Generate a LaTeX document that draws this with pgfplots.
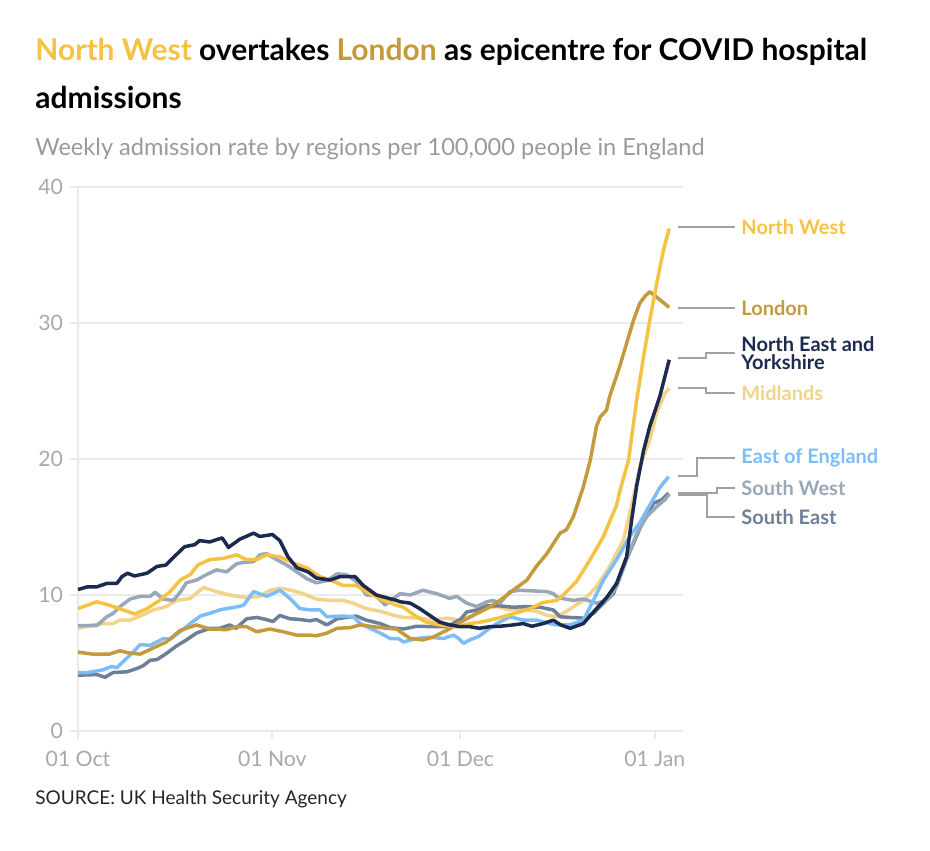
\documentclass[border=0pt]{standalone}
\usepackage{pgfplots}
\pgfplotsset{compat=1.18}
\usetikzlibrary{calc}
\usepackage{fontspec}
\setmainfont{Lato}
\definecolor{cNW}{HTML}{F6C244}
\definecolor{cLon}{HTML}{C49A3C}
\definecolor{cNEY}{HTML}{1B2A4E}
\definecolor{cMid}{HTML}{F2D38A}
\definecolor{cEoE}{HTML}{7DBDF7}
\definecolor{cSW}{HTML}{98A8B8}
\definecolor{cSE}{HTML}{6E8098}
\definecolor{cGrid}{HTML}{EAEAEA}
\definecolor{cTick}{HTML}{A8A8A8}
\definecolor{cLead}{HTML}{A0A0A0}
\definecolor{cSub}{HTML}{9A9A9A}
\begin{document}
\begin{tikzpicture}
\begin{axis}[
  name=main, scale only axis,
  width=302.5pt, height=272pt,
  xmin=0, xmax=96.5, ymin=0, ymax=40,
  axis x line=bottom, axis y line=left,
  axis line style={-, draw=cGrid, line width=1pt},
  ytick={0,10,20,30,40},
  xtick={0,31,61,92},
  xticklabels={01 Oct,01 Nov,01 Dec,01 Jan},
  ymajorgrids, grid style={cGrid, line width=1pt},
  tick align=outside, major tick length=4pt,
  tick style={cGrid, line width=1pt},
  /pgf/number format/assume math mode=true,
  ticklabel style={text=cTick, font=\fontsize{10.6}{13}\selectfont},
  xticklabel style={yshift=-2.5pt},
  every axis plot/.append style={line width=1.75pt, line join=round, no marks},
  clip=false,
]
\addplot[cMid] coordinates {(0,7.55)(2.4,7.8)(4,7.9)(5.6,7.9)(6.7,8.15)(8.3,8.15)(9.9,8.45)(12,8.9)(14.1,9.15)(15.7,9.6)(17.9,9.75)(20,10.55)(22.1,10.25)(24.2,10.0)(26.9,9.8)(29,9.9)(30.6,10.35)(32.2,10.5)(34,10.35)(35.9,10.1)(38,9.7)(40.2,9.6)(42.3,9.6)(43.9,9.4)(46,9.0)(48.2,8.8)(50.8,8.45)(51.9,8.35)(54.5,8.3)(56.7,8.15)(58.8,8.3)(61,8.15)(63,8.5)(64.6,9.0)(66.8,9.15)(68.9,8.9)(71,8.95)(73.2,8.8)(74.8,8.5)(76.3,8.4)(77.4,8.65)(80.6,9.6)(82.7,10.6)(84.8,12.1)(87,14.05)(88.6,17.2)(89.6,19.4)(91.2,21.4)(92.3,23.4)(93.6,24.8)(94.3,25.2)};
\addplot[cSE] coordinates {(0,4.1)(3,4.15)(4.3,3.95)(5.6,4.3)(7.8,4.35)(9.4,4.6)(10.4,4.8)(11.5,5.2)(12.6,5.25)(14.1,5.7)(15.7,6.25)(17.3,6.7)(18.9,7.2)(21,7.55)(22.6,7.55)(24.2,7.8)(25.2,7.55)(26.9,8.25)(28.5,8.35)(30,8.2)(31.1,8.05)(32.2,8.5)(33.8,8.25)(35.4,8.2)(37,8.1)(38,8.2)(39.7,7.8)(41.3,8.25)(42.8,8.35)(44.4,8.45)(46,8.15)(48.2,7.9)(49.8,7.6)(51.9,7.5)(54,7.7)(56.7,7.67)(58.8,7.67)(61,8.2)(62,8.75)(63.6,8.9)(65.2,9.2)(67.3,9.2)(69.4,9.1)(71.6,9.15)(73.7,9.1)(75.8,8.9)(76.9,8.4)(78.5,8.35)(80.6,8.3)(82.2,8.65)(83.8,9.4)(85.4,10.1)(87,12.1)(88.6,13.8)(90.2,15.5)(91.8,16.75)(93.1,17.0)(94.2,17.5)};
\addplot[cSW] coordinates {(0,7.75)(3,7.75)(4.6,8.4)(5.6,8.65)(6.7,9.15)(8.3,9.7)(9.9,9.9)(11.5,9.9)(12.3,10.2)(13.6,9.7)(15.2,9.6)(16.3,10.2)(17.3,10.9)(18.9,11.1)(20.5,11.5)(22.1,11.85)(23.7,11.7)(25.3,12.3)(26.4,12.4)(28,12.45)(29,12.95)(30,13.05)(31.7,12.6)(33.3,12.2)(34.9,11.7)(36.5,11.2)(38,10.9)(39.7,11.05)(41.3,11.55)(42.8,11.5)(44.4,11.0)(46,10.0)(47.4,10.0)(49,9.25)(49.8,9.6)(51.4,10.1)(53,10.0)(55,10.35)(57.2,10.1)(59.3,9.75)(60.4,9.9)(62,9.4)(63.6,9.15)(65.2,9.5)(66.2,9.6)(67.3,9.4)(68.9,10.25)(70.5,10.35)(72.6,10.3)(74.8,10.25)(75.8,10.1)(76.6,9.8)(79,9.6)(80.6,9.7)(82.7,9.4)(84.3,9.6)(85.9,10.6)(87.5,12.6)(89.1,14.5)(90.7,15.75)(92.3,16.5)(93.6,17.0)(94.3,17.4)};
\addplot[cEoE] coordinates {(0,4.3)(1.6,4.3)(4,4.5)(5.4,4.75)(6.2,4.65)(7.2,5.1)(8.8,5.8)(9.9,6.35)(11.5,6.3)(12.6,6.55)(13.6,6.8)(14.7,6.75)(16.3,7.3)(17.9,7.9)(19.5,8.45)(21,8.65)(22.6,8.9)(23.7,9.0)(25.6,9.15)(26.4,9.25)(28,10.25)(30.1,9.9)(32.2,10.35)(33.8,9.75)(35.4,9.0)(37,8.9)(38.6,8.9)(39.7,8.4)(42.3,8.45)(43.9,8.4)(45,7.9)(46.6,7.55)(48.2,7.2)(49.8,6.8)(51.1,6.8)(51.9,6.55)(54,6.8)(56.1,6.9)(58.3,6.8)(59.9,7.05)(60.7,6.8)(61.5,6.45)(62.5,6.7)(63.9,6.95)(65.2,7.4)(66.8,7.9)(68.9,8.4)(71,8.15)(73.2,8.15)(75.3,7.9)(76.3,7.8)(78.5,7.8)(80.6,8.15)(82.2,9.6)(83.8,11.1)(85.9,12.6)(88,14.3)(89.6,15.3)(91.2,16.6)(92.8,17.9)(94.2,18.7)};
\addplot[cLon] coordinates {(0,5.8)(2.4,5.65)(5,5.65)(6.7,5.9)(8,5.75)(9.9,5.65)(12,6.1)(14.1,6.55)(16.3,7.4)(18.9,7.8)(21,7.5)(23.7,7.45)(25.3,7.67)(26.9,7.67)(28.5,7.3)(30.6,7.5)(32.7,7.3)(34.9,7.05)(37,7.05)(38,7.0)(39.7,7.2)(41.3,7.55)(43.4,7.6)(45,7.8)(47.1,7.67)(49.2,7.55)(50.8,7.5)(51.4,7.3)(53,6.8)(55,6.7)(56.6,6.9)(58.8,7.4)(61,8.0)(63,8.5)(65.2,9.0)(67.3,9.6)(69.4,10.35)(71.6,11.1)(73.1,12.1)(74.8,13.05)(76.9,14.55)(77.9,14.8)(79,15.75)(80.6,17.95)(81.7,19.9)(82.7,22.4)(83.3,23.1)(84.3,23.6)(84.8,24.6)(86.4,26.8)(87.5,28.5)(88.6,30.2)(89.6,31.45)(90.5,32.0)(91.2,32.3)(92.3,31.9)(94.3,31.15)};
\addplot[cNW] coordinates {(0,9.0)(3,9.5)(5,9.25)(7.2,8.9)(9.1,8.6)(11,9.0)(13,9.6)(14.7,10.25)(16.3,11.1)(17.9,11.5)(19.1,12.2)(21,12.6)(23.2,12.7)(25.3,12.95)(26.9,12.6)(28.5,12.6)(30,12.95)(32.2,12.8)(34.3,12.35)(36.5,12.0)(38.6,11.35)(40.2,11.1)(42.3,10.7)(44.4,10.7)(46.6,10.1)(48.7,9.6)(50.8,9.25)(51.9,9.1)(54,8.4)(55.6,8.0)(57.7,7.8)(60.4,7.67)(62.5,7.9)(64.1,8.0)(65.7,8.15)(67.8,8.4)(70,8.7)(72.1,9.0)(74.2,9.45)(76.3,9.6)(77.4,10.0)(79.5,11.0)(81.7,12.6)(83.8,14.3)(84.8,15.4)(85.9,16.6)(86.4,17.6)(87.8,19.9)(89.1,24.3)(90.2,27.5)(91.2,30.2)(92.3,32.9)(93.4,35.4)(94.3,36.95)};
\addplot[cNEY] coordinates {(0,10.4)(1.5,10.6)(3,10.6)(4.6,10.85)(6.2,10.85)(7,11.35)(7.9,11.6)(9,11.4)(11,11.6)(12.6,12.1)(14,12.2)(15.3,12.8)(17,13.55)(18.6,13.7)(19.4,14.0)(21,13.9)(23,14.2)(24,13.5)(25.8,14.1)(28,14.55)(29,14.3)(31,14.45)(32.2,14.0)(33.5,12.8)(34.9,12.0)(36.7,11.7)(38,11.25)(40.2,11.1)(41.8,11.35)(44.2,11.35)(45.5,10.7)(47.6,10.0)(49.2,9.8)(50.8,9.6)(51.4,9.5)(53,9.4)(54.5,9.0)(56.1,8.5)(57.7,8.0)(59.3,7.8)(61,7.67)(62.5,7.67)(64,7.55)(65.7,7.67)(67.3,7.7)(69.4,7.8)(71,7.9)(72.4,7.7)(74.2,7.9)(75.8,8.15)(77,7.8)(78.5,7.55)(80.6,7.9)(82.7,9.0)(84.3,9.8)(85.9,10.85)(87.5,12.8)(88.3,15.5)(89.1,18.0)(90.2,20.6)(91.2,22.4)(92.8,24.6)(94.3,27.3)};
\end{axis}
\coordinate (TL) at ($(main.origin)+(-39pt,365.5pt)$);
\pgfresetboundingbox
\useasboundingbox (TL) rectangle ++(465pt,-425pt);
\begin{scope}[shift={(TL)}, x=0.5pt, y=-0.5pt]
\node[anchor=base west, inner sep=0, font=\fontsize{15}{17}\selectfont\bfseries] at (35,61) {\textcolor{cNW}{North West} overtakes \textcolor{cLon}{London} as epicentre for COVID hospital};
\node[anchor=base west, inner sep=0, font=\fontsize{15}{17}\selectfont\bfseries] at (35,109) {admissions};
\node[anchor=base west, inner sep=0, text=cSub, font=\fontsize{11.8}{13}\selectfont] at (35,156) {Weekly admission rate by regions per 100,000 people in England};
\node[anchor=base west, inner sep=0, text=black!85, font=\fontsize{9.5}{11}\selectfont] at (35,804) {SOURCE: UK Health Security Agency};
\begin{scope}[draw=cLead, line width=0.75pt]
\draw (678,227)--(735,227);
\draw (678,308)--(735,308);
\draw (678,358)--(706,358)--(706,353)--(735,353);
\draw (678,388)--(706,388)--(706,393)--(735,393);
\draw (678,476)--(697,476)--(697,458)--(735,458);
\draw (678,493)--(717,493)--(717,488)--(735,488);
\draw (678,495)--(707,495)--(707,517)--(735,517);
\end{scope}
\begin{scope}[every node/.style={anchor=west, inner sep=0, font=\fontsize{10}{9}\selectfont\bfseries}]
\node[text=cNW] at (741,227) {North West};
\node[text=cLon] at (741,308) {London};
\node[text=cNEY, align=left] at (741,353.5) {North East and\\Yorkshire};
\node[text=cMid] at (741,393) {Midlands};
\node[text=cEoE] at (741,458) {East of England};
\node[text=cSW] at (741,488) {South West};
\node[text=cSE] at (741,517) {South East};
\end{scope}
\end{scope}
\end{tikzpicture}
\end{document}
